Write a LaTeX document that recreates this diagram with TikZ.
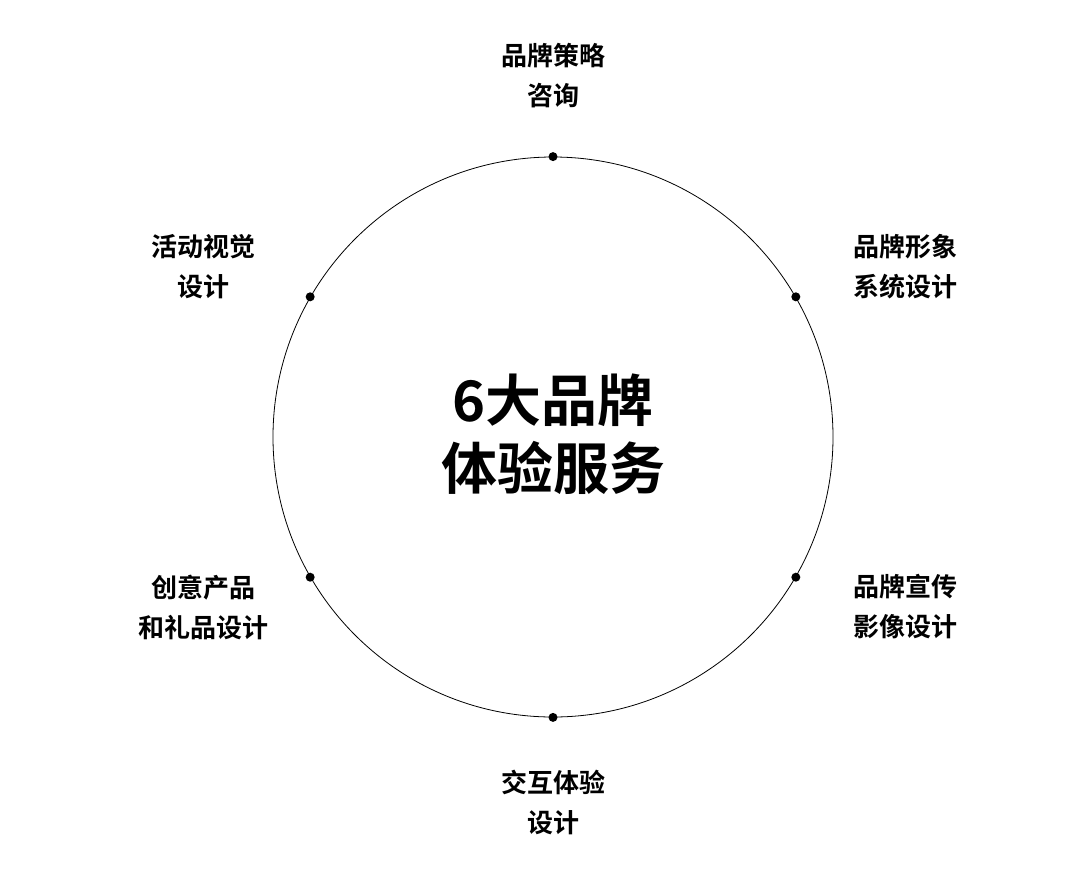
\documentclass[tikz,border=0pt]{standalone}
\usepackage{fontspec}
\newfontfamily\cjk{Noto Sans CJK SC}[BoldFont={Noto Sans CJK SC Bold}]
\begin{document}
\begin{tikzpicture}[x=1pt,y=-1pt,
  lbl/.style={font=\cjk\bfseries\fontsize{26}{40}\selectfont,align=center,text=black},
  dot/.style={circle,fill=black,inner sep=0pt,minimum size=9pt}]
\useasboundingbox (0,0) rectangle (1080,876);
\node[circle,draw=black,line width=0.8pt,minimum size=560pt,inner sep=0pt] (c) at (553,437) {};
\node[font=\cjk\bfseries\fontsize{56}{68}\selectfont,align=center] (t) at (553,434) {6大品牌\\体验服务};
\node[dot] (d1) at (c.90) {};
\node[dot] (d2) at (c.30) {};
\node[dot] (d3) at (c.-30) {};
\node[dot] (d4) at (c.-90) {};
\node[dot] (d5) at (c.210) {};
\node[dot] (d6) at (c.150) {};
\node[lbl] (l1) at (553,76) {品牌策略\\咨询};
\node[lbl] (l2) at (905,267) {品牌形象\\系统设计};
\node[lbl] (l3) at (905,607) {品牌宣传\\影像设计};
\node[lbl] (l4) at (553,802) {交互体验\\设计};
\node[lbl] (l5) at (203,607) {创意产品\\和礼品设计};
\node[lbl] (l6) at (203,267) {活动视觉\\设计};
\end{tikzpicture}
\end{document}
